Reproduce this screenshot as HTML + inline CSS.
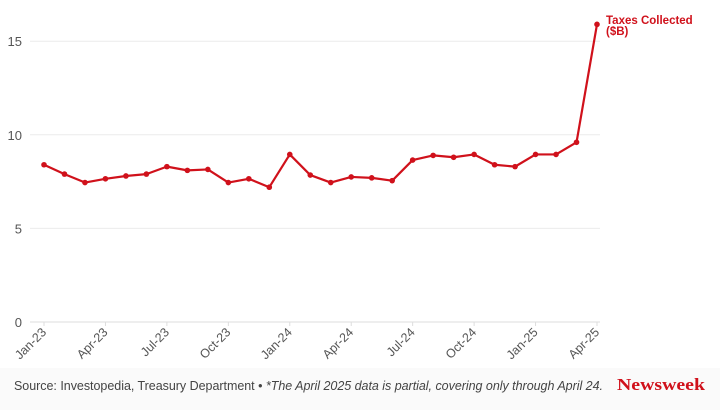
<!DOCTYPE html>
<html><head><meta charset="utf-8"><style>
body{margin:0;background:#fff;width:720px;height:410px;overflow:hidden;font-family:"Liberation Sans",sans-serif}
svg{display:block}
</style></head><body>
<svg id="c" width="720" height="410">
<rect x="0" y="368" width="720" height="42" fill="#fafafa"/>
<g id="grid"></g><g id="xt"></g><path id="ln" fill="none" stroke="#d0111b" stroke-width="2.2" stroke-linejoin="round"/><g id="pts"></g>
<text x="606" y="24" fill="#d0111b" font-size="11.5" font-weight="bold">Taxes Collected</text>
<text x="606" y="35" fill="#d0111b" font-size="11.5" font-weight="bold">($B)</text>
<text x="14" y="390" fill="#444" font-size="12.5" textLength="589">Source: Investopedia, Treasury Department • <tspan font-style="italic">*The April 2025 data is partial, covering only through April 24.</tspan></text>
<text x="617" y="390" fill="#d0111b" font-size="17" font-weight="bold" font-family="Liberation Serif,serif" textLength="88" lengthAdjust="spacingAndGlyphs">Newsweek</text>
</svg>
<script>
const months=["Jan-23","Feb-23","Mar-23","Apr-23","May-23","Jun-23","Jul-23","Aug-23","Sep-23","Oct-23","Nov-23","Dec-23","Jan-24","Feb-24","Mar-24","Apr-24","May-24","Jun-24","Jul-24","Aug-24","Sep-24","Oct-24","Nov-24","Dec-24","Jan-25","Feb-25","Mar-25","Apr-25"];
const values=[8.4,7.9,7.45,7.65,7.8,7.9,8.3,8.1,8.15,7.45,7.65,7.2,8.95,7.85,7.45,7.75,7.7,7.55,8.65,8.9,8.8,8.95,8.4,8.3,8.95,8.95,9.6,15.9];
const yTicks=[0,5,10,15];
const NS="http://www.w3.org/2000/svg";
const x=i=>44+i*(597-44)/27, y=v=>322-v*18.72;
const mk=(t,a,p)=>{const e=document.createElementNS(NS,t);for(const k in a)e.setAttribute(k,a[k]);p.appendChild(e);return e;};
const g=document.getElementById('grid');
yTicks.forEach(v=>{
 const l=mk('line',{x1:30,x2:600,y1:y(v),y2:y(v),stroke:v?'#ebebeb':'#ddd','stroke-width':1},g);
 
 
 const t=mk('text',{x:22,y:y(v)+5,'text-anchor':'end','font-size':13,fill:'#555'},g);t.textContent=v;
 
 
});
const xt=document.getElementById('xt');
months.forEach((m,i)=>{if(i%3)return;
 const t=mk('text',{x:x(i)+3,y:333,'text-anchor':'end','font-size':12.5,fill:'#555',transform:`rotate(-45 ${x(i)+3} 333)`},xt);t.textContent=m;
 
 
 mk('line',{x1:x(i),x2:x(i),y1:322,y2:326,stroke:'#ddd'},xt);
});
const ln=document.getElementById('ln');
ln.setAttribute('d',values.map((v,i)=>(i?'L':'M')+x(i)+' '+y(v)).join(''));


const p=document.getElementById('pts');
values.forEach((v,i)=>{const c=mk('circle',{cx:x(i),cy:y(v),r:2.8,fill:'#d0111b'},p);
 
 });
</script>
</body></html>
